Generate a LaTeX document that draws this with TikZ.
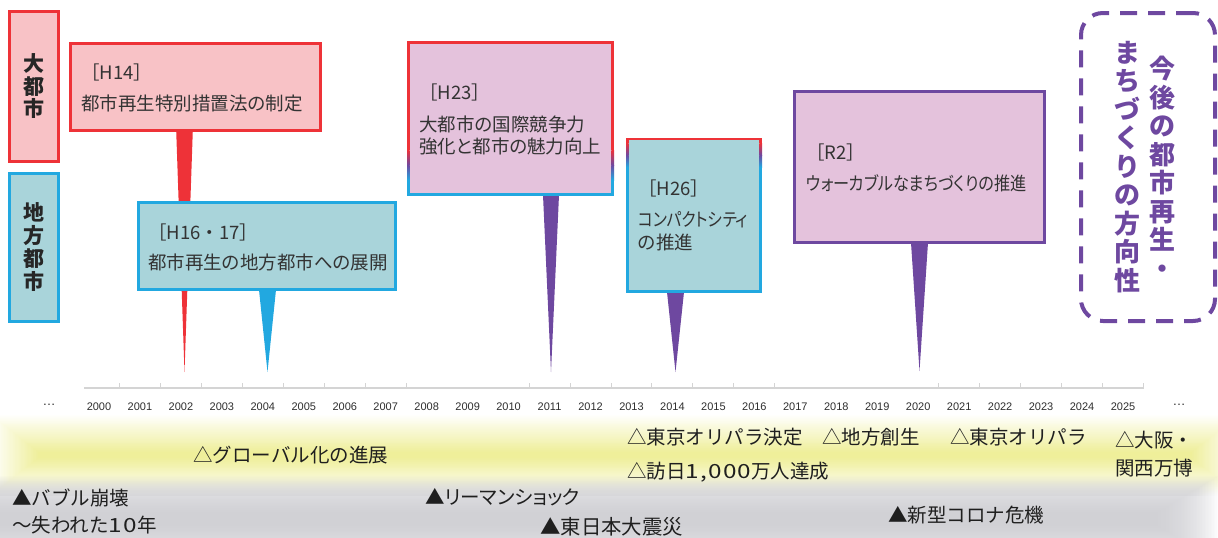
\documentclass[tikz,border=0pt]{standalone}
\usepackage{fontspec}
\setmainfont{Liberation Sans}
\newfontfamily\jp{Noto Sans CJK JP}
\newfontfamily\jpp[RawFeature=+palt]{Noto Sans CJK JP}
\usetikzlibrary{calc}
\definecolor{cred}{RGB}{238,50,56}
\definecolor{cblue}{RGB}{34,168,224}
\definecolor{cpur}{RGB}{110,72,160}
\definecolor{fpink}{RGB}{248,194,198}
\definecolor{fteal}{RGB}{169,212,218}
\definecolor{flilac}{RGB}{228,194,220}
\definecolor{txt}{RGB}{51,51,51}
\definecolor{bandY}{RGB}{238,238,150}
\definecolor{bandG}{RGB}{200,200,205}
\definecolor{axisc}{RGB}{212,212,212}
\newcommand\wdig[1]{\scalebox{1.25}[1]{\addfontfeature{LetterSpace=5}#1}}
\tikzset{
  box/.style={line width=2.6pt, inner sep=0pt, outer sep=0pt},
  btxt/.style={anchor=west, inner sep=0pt, text=txt, font=\jp\fontsize{18.5}{22}\selectfont},
  btxtp/.style={anchor=west, inner sep=0pt, text=txt, font=\jpp\fontsize{18.5}{22}\selectfont},
  evt/.style={anchor=west, inner sep=0pt, text=black!88, font=\jp\fontsize{19.5}{24}\selectfont},
  yr/.style={inner sep=0pt, text=black!82, font=\fontsize{11}{12}\selectfont},
  side/.style={inner sep=0pt, align=center, text=black!85, font=\jp\bfseries\fontsize{21}{22.5}\selectfont},
  vtxt/.style={inner sep=0pt, align=center, text=cpur, font=\jp\bfseries\fontsize{26}{28.5}\selectfont},
}
\begin{document}
\begin{tikzpicture}[x=1pt,y=-1pt]
\useasboundingbox (0,0) rectangle (1218,538);
% background bands
\begin{scope}
\clip (0,0) rectangle (1218,538);
\foreach \i in {0,...,40}{
  \pgfmathsetmacro\p{2.4*\i}
  \fill[color=bandY!\p!white] (-10+1.2*\i,414+0.95*\i) rectangle (1240-1.2*\i,496-0.95*\i);
}
\foreach \i in {0,...,40}{
  \fill[bandG, fill opacity=0.045] (-60+1.5*\i,476+0.9*\i) rectangle (1218-1.5*\i,562-0.9*\i);
}
\end{scope}
% axis
\coordinate (ax0) at (84,388);
\coordinate (ax1) at (1144,388);
\draw[axisc, line width=1.2pt] (ax0) -- (ax1);
\foreach \k in {0,...,7,10,11,...,16,20,21,...,25}{
  \draw[axisc, line width=1pt] (119.5+40.96*\k,388) -- ++(0,-5);
}
\foreach \k in {0,...,25}{
  \pgfmathtruncatemacro\yy{2000+\k}
  \node[yr] (y\k) at (99+40.96*\k,406.5) {\yy};
}
\node[yr, font=\fontsize{13}{14}\selectfont] (dl) at (49,405) {…};
\node[yr, font=\fontsize{13}{14}\selectfont] (dr) at (1179,405) {…};
% tip coordinates
\coordinate (t14) at (184.5,372);
\coordinate (t16) at (267.5,372);
\coordinate (t23) at (551,372);
\coordinate (t26) at (675.5,372);
\coordinate (tr2) at (919.5,371);
% side labels
\node[box, draw=cred, fill=fpink, minimum width=49.4pt, minimum height=150.4pt] (lab1) at (34,86.5) {};
\node[side] (lab1t) at (lab1) {大\\都\\市};
\node[box, draw=cblue, fill=fteal, minimum width=49.4pt, minimum height=148.4pt] (lab2) at (34,247.5) {};
\node[side, font=\jp\bfseries\fontsize{21}{23}\selectfont] (lab2t) at (lab2) {地\\方\\都\\市};
% H14
\node[box, minimum width=250.4pt, minimum height=87.4pt] (h14) at (195.5,87) {};
\fill[cred] ($(t14 |- h14.south)+(-8.3,0)$) -- ($(t14 |- h14.south)+(8.3,0)$) -- (t14) -- cycle;
\node[box, draw=cred, fill=fpink, minimum width=250.4pt, minimum height=87.4pt] (h14b) at (h14) {};
\node[btxt] (h14l1) at (81,72) {［H14］};
\node[btxtp] (h14l2) at (81,103) {都市再生特別措置法の制定};
% H16-17
\node[box, minimum width=257.4pt, minimum height=87.4pt] (h16) at (267,246) {};
\fill[cblue] ($(t16 |- h16.south)+(-8.5,0)$) -- ($(t16 |- h16.south)+(8.5,0)$) -- (t16) -- cycle;
\node[box, draw=cblue, fill=fteal, minimum width=257.4pt, minimum height=87.4pt] (h16b) at (h16) {};
\node[btxt] (h16l1) at (148,232) {［H16・17］};
\node[btxtp] (h16l2) at (148,262) {都市再生の地方都市への展開};
% H23
\node[box, fill=flilac, minimum width=207pt, minimum height=153pt] (h23) at (510.5,118.5) {};
\fill[cpur] ($(t23 |- h23.south)+(-8,0)$) -- ($(t23 |- h23.south)+(8,0)$) -- (t23) -- cycle;
\foreach \xx in {408.3,612.7}{
  \fill[cred] (\xx-1.3,41) rectangle (\xx+1.3,150);
  \shade[top color=cred, bottom color=cpur] (\xx-1.3,150) rectangle (\xx+1.3,165);
  \shade[top color=cpur, bottom color=cblue] (\xx-1.3,165) rectangle (\xx+1.3,180);
  \fill[cblue] (\xx-1.3,180) rectangle (\xx+1.3,195.5);
}
\fill[cred] (407,41) rectangle (614,43.6);
\fill[cblue] (407,192.9) rectangle (614,195.5);
\node[btxt] (h23l1) at (419,92) {［H23］};
\node[btxtp] (h23l2) at (419,124) {大都市の国際競争力};
\node[btxtp] (h23l3) at (419,147) {強化と都市の魅力向上};
% H26
\node[box, fill=fteal, minimum width=136pt, minimum height=154pt] (h26) at (694,215) {};
\fill[cpur] ($(t26 |- h26.south)+(-8.5,0)$) -- ($(t26 |- h26.south)+(8.5,0)$) -- (t26) -- cycle;
\foreach \xx in {627.3,760.7}{
  \fill[cred] (\xx-1.3,138) rectangle (\xx+1.3,143);
  \shade[top color=cred, bottom color=cpur] (\xx-1.3,143) rectangle (\xx+1.3,155);
  \shade[top color=cpur, bottom color=cblue] (\xx-1.3,155) rectangle (\xx+1.3,167);
  \fill[cblue] (\xx-1.3,167) rectangle (\xx+1.3,292.5);
}
\fill[cred] (626,137.5) rectangle (762,140.1);
\fill[cblue] (626,289.9) rectangle (762,292.5);
\node[btxt] (h26l1) at (638,188) {［H26］};
\node[btxtp] (h26l2) at (638,220) {\scalebox{0.85}[1]{コンパクトシティ}};
\node[btxtp] (h26l3) at (638,242) {の推進};
% R2
\node[box, minimum width=250.4pt, minimum height=151.4pt] (r2) at (919.5,167) {};
\fill[cpur] ($(tr2 |- r2.south)+(-8.5,0)$) -- ($(tr2 |- r2.south)+(8.5,0)$) -- (tr2) -- cycle;
\node[box, draw=cpur, fill=flilac, minimum width=250.4pt, minimum height=151.4pt] (r2b) at (r2) {};
\node[btxt] (r2l1) at (806,152) {［R2］};
\node[btxtp] (r2l2) at (806,183) {\scalebox{0.873}[1]{ウォーカブルなまちづくりの推進}};
% future box
\node[draw=cpur, line width=4pt, dash pattern=on 17pt off 11pt, rounded corners=22pt, minimum width=134pt, minimum height=308pt, inner sep=0pt] (fut) at (1148,167) {};
\node[vtxt] (fut1) at (1162,167.5) {今\\後\\の\\都\\市\\再\\生\\・};
\node[vtxt] (fut2) at (1127,167) {ま\\ち\\づ\\く\\り\\の\\方\\向\\性};
% events
\node[evt] (e1) at (193,455) {△グローバル化の進展};
\node[evt] (e2) at (12,498) {▲バブル崩壊};
\node[evt] (e3) at (12,525) {～失われた\wdig{10}年};
\node[evt, font=\jpp\fontsize{19.5}{24}\selectfont] (e4) at (425,497) {▲リーマンショック};
\node[evt, font=\jp\fontsize{20.4}{24}\selectfont] (e5) at (540,527) {▲東日本大震災};
\node[evt] (e6) at (627,437) {△東京オリパラ決定};
\node[evt] (e7) at (822,437) {△地方創生};
\node[evt] (e8) at (950,437) {△東京オリパラ};
\node[evt] (e9) at (627,472) {△訪日\wdig{1,000}万人達成};
\node[evt] (e10) at (1115,440) {△大阪・};
\node[evt] (e11) at (1115,468) {関西万博};
\node[evt] (e12) at (888,515) {▲新型コロナ危機};
\end{tikzpicture}
\end{document}
